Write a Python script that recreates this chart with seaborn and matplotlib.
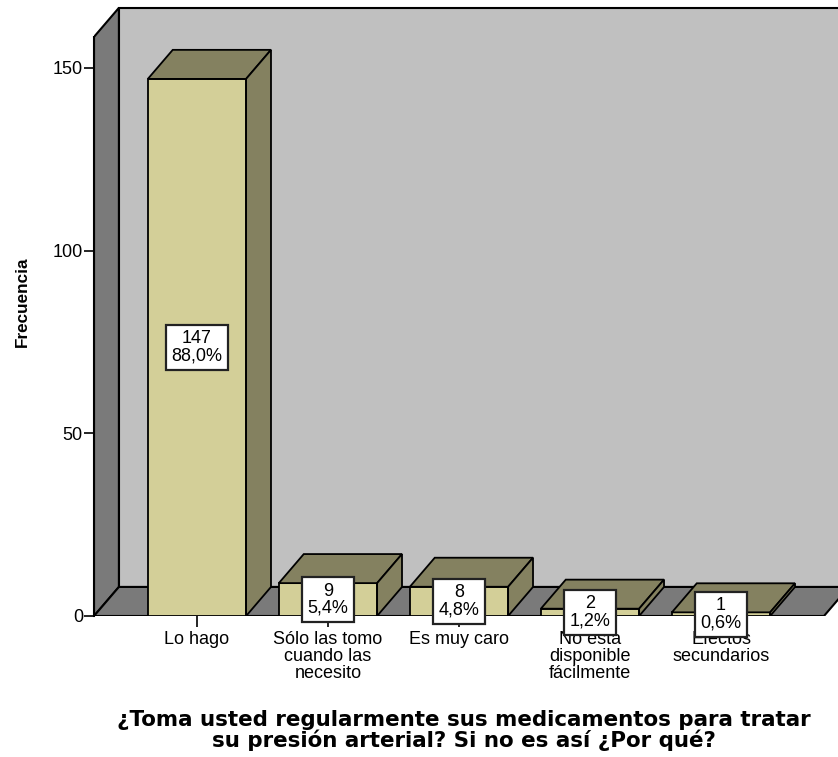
import matplotlib
matplotlib.use("Agg")
import matplotlib.pyplot as plt
from matplotlib.patches import Polygon
import seaborn as sns

# ---- data ----
categories = ["Lo hago", "Sólo las tomo\ncuando las\nnecesito", "Es muy caro",
              "No esta\ndisponible\nfácilmente", "Efectos\nsecundarios"]
counts = [147, 9, 8, 2, 1]
percents = ["88,0%", "5,4%", "4,8%", "1,2%", "0,6%"]
yticks = [0, 50, 100, 150]
xlabel = "¿Toma usted regularmente sus medicamentos para tratar\nsu presión arterial? Si no es así ¿Por qué?"
ylabel = "Frecuencia"

# ---- style ----
sns.set_style("white")
plt.rcParams['font.family'] = ['Liberation Sans', 'DejaVu Sans']
plt.rcParams.update({"text.color": "black", "axes.labelcolor": "black",
                     "xtick.color": "black", "ytick.color": "black"})

FRONT = "#d3cf98"
DARK = "#848160"
WALL = "#c0c0c0"
SIDEWALL = "#7a7a7a"

W, H = 838, 757
fig = plt.figure(figsize=(W / 100, H / 100), dpi=100)
ax = fig.add_axes([94 / W, (H - 616) / H, (W - 94) / W, 612 / H])

sns.barplot(x=categories, y=counts, color=FRONT, saturation=1, width=0.75,
            edgecolor="black", linewidth=1.3, ax=ax, zorder=2)

x0, x1 = -0.786, 4.786
ymax_front = 158.5
dx, dy = 0.19, 7.95
ax.set_xlim(x0, 4.893)
ax.set_ylim(0, 167.5)

# back wall
ax.add_patch(Polygon([(x0 + dx, dy), (x1 + 1, dy), (x1 + 1, ymax_front + dy),
                      (x0 + dx, ymax_front + dy)], closed=True, facecolor=WALL,
                     edgecolor="black", linewidth=1.5, zorder=0.2))
# left wall
ax.add_patch(Polygon([(x0, 0), (x0, ymax_front), (x0 + dx, ymax_front + dy), (x0 + dx, dy)],
                     closed=True, facecolor=SIDEWALL, edgecolor="black", linewidth=1.5,
                     zorder=0.3))
# floor
ax.add_patch(Polygon([(x0, 0), (x1, 0), (x1 + dx, dy), (x0 + dx, dy)], closed=True,
                     facecolor=SIDEWALL, edgecolor="black", linewidth=1.5, zorder=0.3))

# 3D tops and sides of bars + labels
for p, c, pc in zip(ax.patches[:len(counts)], counts, percents):
    bx, bw, bh = p.get_x(), p.get_width(), p.get_height()
    ax.add_patch(Polygon([(bx, bh), (bx + bw, bh), (bx + bw + dx, bh + dy), (bx + dx, bh + dy)],
                         closed=True, facecolor=DARK, edgecolor="black", linewidth=1.3,
                         zorder=2.5))
    ax.add_patch(Polygon([(bx + bw, 0), (bx + bw, bh), (bx + bw + dx, bh + dy), (bx + bw + dx, dy)],
                         closed=True, facecolor=DARK, edgecolor="black", linewidth=1.3,
                         zorder=2.5))
    ax.text(bx + bw / 2, bh / 2, f"{c}\n{pc}", ha="center", va="center", fontsize=13,
            linespacing=1.0, zorder=5,
            bbox=dict(boxstyle="square,pad=0.3", facecolor="white", edgecolor="#222222",
                      linewidth=1.6))

for s in ["top", "right", "bottom"]:
    ax.spines[s].set_visible(False)
ax.spines["left"].set_bounds(0, ymax_front)
ax.spines["left"].set_linewidth(1.5)
ax.spines["left"].set_color("black")
ax.spines["left"].set_zorder(3)

ax.set_yticks(yticks)
ax.set_yticklabels([str(v) for v in yticks])
ax.tick_params(axis="y", left=True, direction="out", length=7, width=1.2, labelsize=13, pad=1)
ax.tick_params(axis="x", bottom=True, direction="out", length=8, width=1.2, labelsize=13, pad=3)
for lbl in ax.get_xticklabels():
    lbl.set_linespacing(1.0)

ax.set_xlabel(xlabel, fontsize=15.4, fontweight="bold", family="DejaVu Sans", linespacing=1.0)
ax.xaxis.set_label_coords(0.497, -0.153)
ax.set_ylabel(ylabel, fontsize=12.3, fontweight="bold", va="center")
ax.yaxis.set_label_coords(-0.0968, 0.513)

fig.savefig("out.png", dpi=100)
